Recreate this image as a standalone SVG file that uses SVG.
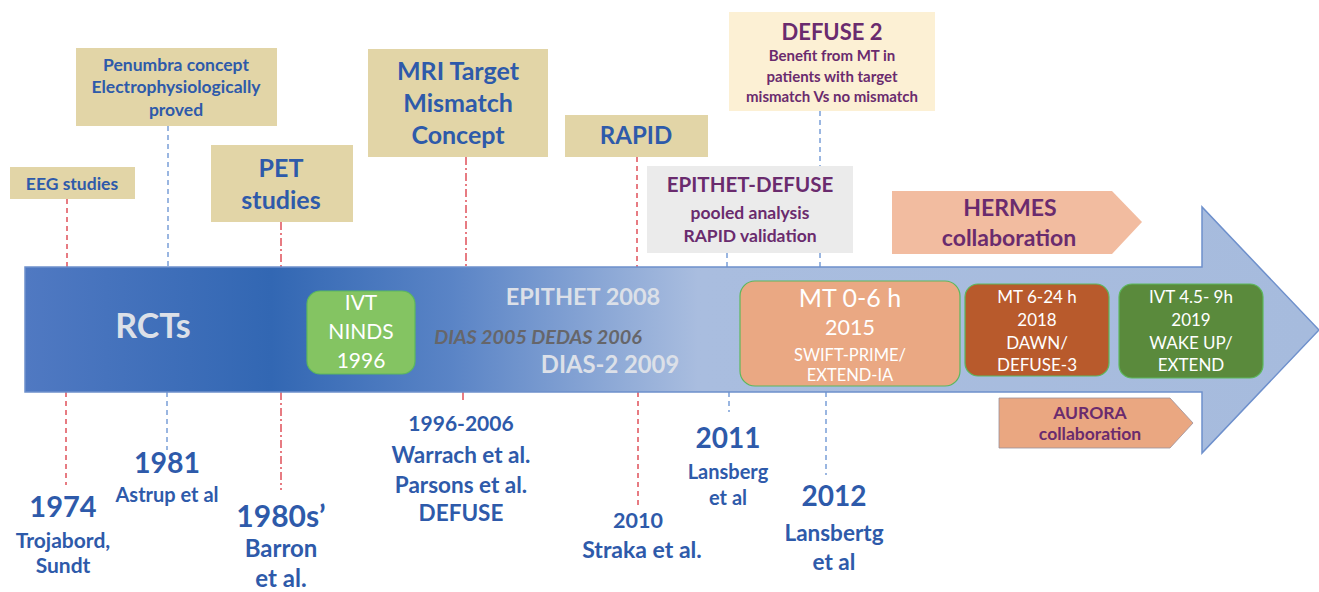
<svg xmlns="http://www.w3.org/2000/svg" width="1319" height="592" viewBox="0 0 1319 592">
<defs>
<linearGradient id="arrowGrad" gradientUnits="userSpaceOnUse" x1="25" y1="0" x2="1319" y2="0">
<stop offset="0" stop-color="#5079C2"/>
<stop offset="0.19" stop-color="#3267B3"/>
<stop offset="0.33" stop-color="#5A84C6"/>
<stop offset="0.52" stop-color="#A9BDDF"/>
<stop offset="1" stop-color="#A6BBDD"/>
</linearGradient>
<style>
.tan{fill:#E2D5A7;}
.bt{font-family:Lato,"Open Sans",sans-serif;font-weight:bold;fill:#2E5AAA;text-anchor:middle;}
.pt{font-family:Lato,"Open Sans",sans-serif;font-weight:bold;fill:#6A2B6E;text-anchor:middle;}
.wt{font-family:Lato,"Open Sans",sans-serif;fill:#FFFFFF;text-anchor:middle;}
.lt{font-family:Lato,"Open Sans",sans-serif;font-weight:bold;fill:#DCE0E8;text-anchor:middle;}
.red{stroke:#E0505A;stroke-width:1.5;fill:none;stroke-dasharray:5,4;}
.reddd{stroke:#E0505A;stroke-width:1.5;fill:none;stroke-dasharray:8,3,2,3;}
.blue{stroke:#7A9ED8;stroke-width:1.5;fill:none;stroke-dasharray:5,4;}
.rb{stroke:#5CB85C;stroke-width:1.2;}
</style>
</defs>

<g id="connectors">
<line class="red" x1="67" y1="199" x2="67" y2="267"/>
<line class="red" x1="66" y1="392" x2="66" y2="485"/>
<line class="blue" x1="168" y1="126" x2="168" y2="267"/>
<line class="blue" x1="167" y1="392" x2="167" y2="450"/>
<line class="reddd" x1="281" y1="222" x2="281" y2="267"/>
<line class="reddd" x1="281" y1="392" x2="281" y2="490"/>
<line class="reddd" x1="466" y1="157" x2="466" y2="267"/>
<line class="reddd" x1="463" y1="392" x2="463" y2="403"/>
<line class="red" x1="637" y1="157" x2="637" y2="267"/>
<line class="red" x1="638" y1="392" x2="638" y2="506"/>
<line class="blue" x1="727" y1="253" x2="727" y2="267"/>
<line class="blue" x1="729" y1="392" x2="729" y2="412"/>
<line class="blue" x1="820" y1="111" x2="820" y2="166"/>
<line class="blue" x1="820" y1="253" x2="820" y2="267"/>
<line class="blue" x1="826" y1="392" x2="826" y2="475"/>
</g>

<g id="timeline-arrow">
<path d="M25,267 H1202 V207 L1319,330 L1202,453 V392 H25 Z" fill="url(#arrowGrad)" stroke="#6E90CC" stroke-width="1.5"/>
<text class="lt" x="153" y="338" font-size="34">RCTs</text>
<text class="lt" x="583" y="305" font-size="23.5">EPITHET 2008</text>
<text x="538" y="344" font-size="19.8" font-family="Lato,'Open Sans',sans-serif" font-weight="bold" font-style="italic" fill="#66666A" text-anchor="middle">DIAS 2005 DEDAS 2006</text>
<text class="lt" x="610" y="373" font-size="23.8">DIAS-2 2009</text>
</g>

<g id="eeg">
<rect class="tan" x="10" y="167" width="125" height="32"/>
<text class="bt" x="72" y="190" font-size="17.5">EEG studies</text>
</g>

<g id="penumbra">
<rect class="tan" x="76" y="48" width="201" height="78"/>
<text class="bt" x="176" y="71" font-size="17.5">Penumbra concept</text>
<text class="bt" x="176" y="93" font-size="17.5">Electrophysiologically</text>
<text class="bt" x="176" y="116" font-size="17.5">proved</text>
</g>

<g id="pet">
<rect class="tan" x="211" y="145" width="142" height="77"/>
<text class="bt" x="281" y="177" font-size="25">PET</text>
<text class="bt" x="281" y="209" font-size="25">studies</text>
</g>

<g id="mri">
<rect class="tan" x="368" y="49" width="180" height="108"/>
<text class="bt" x="458" y="80" font-size="25">MRI Target</text>
<text class="bt" x="458" y="112" font-size="25">Mismatch</text>
<text class="bt" x="458" y="144" font-size="25">Concept</text>
</g>

<g id="rapid">
<rect class="tan" x="565" y="115" width="143" height="42"/>
<text class="bt" x="636" y="144" font-size="24">RAPID</text>
</g>

<g id="defuse2">
<rect x="729" y="12" width="206" height="99" fill="#FCF0D4"/>
<text class="pt" x="832" y="40" font-size="22">DEFUSE 2</text>
<text class="pt" x="832" y="61" font-size="15">Benefit from MT in</text>
<text class="pt" x="832" y="82" font-size="15">patients with target</text>
<text class="pt" x="832" y="102" font-size="15">mismatch Vs no mismatch</text>
</g>

<g id="epithet-defuse">
<rect x="647" y="166" width="206" height="87" fill="#EBEBEB"/>
<text class="pt" x="750" y="192" font-size="20.5">EPITHET-DEFUSE</text>
<text class="pt" x="750" y="219" font-size="17.5">pooled analysis</text>
<text class="pt" x="750" y="242" font-size="17.5">RAPID validation</text>
</g>

<g id="hermes">
<path d="M892,191 H1112 L1142,222 L1112,254 H892 Z" fill="#F2BCA0"/>
<text class="pt" x="1010" y="216" font-size="23">HERMES</text>
<text class="pt" x="1009" y="246" font-size="23">collaboration</text>
</g>

<g id="aurora">
<path d="M999,398 H1170 L1193,423 L1170,448 H999 Z" fill="#EAA781" stroke="#9A8F9A" stroke-width="0.8"/>
<text class="pt" x="1090" y="419" font-size="17.5">AURORA</text>
<text class="pt" x="1090" y="440" font-size="17.5">collaboration</text>
</g>

<g id="ivt-ninds">
<rect class="rb" x="307" y="291" width="108" height="83" rx="13" fill="#84C462"/>
<text class="wt" x="361" y="310" font-size="21">IVT</text>
<text class="wt" x="361" y="339" font-size="21">NINDS</text>
<text class="wt" x="361" y="368" font-size="21">1996</text>
</g>

<g id="mt-0-6">
<rect class="rb" x="740" y="281" width="220" height="105" rx="15" fill="#EAA883"/>
<text class="wt" x="850" y="307" font-size="25">MT 0-6 h</text>
<text class="wt" x="850" y="335" font-size="21.5">2015</text>
<text class="wt" x="850" y="361" font-size="16.5">SWIFT-PRIME/</text>
<text class="wt" x="850" y="381" font-size="16.5">EXTEND-IA</text>
</g>

<g id="mt-6-24">
<rect class="rb" x="965" y="284" width="144" height="92" rx="13" fill="#B85A2C"/>
<text class="wt" x="1037" y="303" font-size="17">MT 6-24 h</text>
<text class="wt" x="1037" y="326" font-size="17">2018</text>
<text class="wt" x="1037" y="349" font-size="17">DAWN/</text>
<text class="wt" x="1037" y="371" font-size="17">DEFUSE-3</text>
</g>

<g id="ivt-4-5-9">
<rect class="rb" x="1119" y="284" width="144" height="94" rx="13" fill="#5A8A3C"/>
<text class="wt" x="1191" y="303" font-size="17">IVT 4.5- 9h</text>
<text class="wt" x="1191" y="326" font-size="17">2019</text>
<text class="wt" x="1191" y="349" font-size="17">WAKE UP/</text>
<text class="wt" x="1191" y="371" font-size="17">EXTEND</text>
</g>

<g id="y1974">
<text class="bt" x="63" y="517" font-size="29">1974</text>
<text class="bt" x="63" y="548" font-size="21">Trojabord,</text>
<text class="bt" x="63" y="573" font-size="21">Sundt</text>
</g>

<g id="y1981">
<text class="bt" x="167" y="473" font-size="28.5">1981</text>
<text class="bt" x="167" y="502" font-size="20">Astrup et al</text>
</g>

<g id="y1980s">
<text class="bt" x="281" y="527" font-size="30">1980s’</text>
<text class="bt" x="281" y="557" font-size="24">Barron</text>
<text class="bt" x="281" y="587" font-size="24">et al.</text>
</g>

<g id="y1996">
<text class="bt" x="461" y="431" font-size="21">1996-2006</text>
<text class="bt" x="461" y="463" font-size="22.5">Warrach et al.</text>
<text class="bt" x="461" y="493" font-size="22.5">Parsons et al.</text>
<text class="bt" x="461" y="521" font-size="22.5">DEFUSE</text>
</g>

<g id="y2010">
<text class="bt" x="638" y="528" font-size="21.5">2010</text>
<text class="bt" x="642" y="558" font-size="23">Straka et al.</text>
</g>

<g id="y2011">
<text class="bt" x="728" y="448" font-size="28">2011</text>
<text class="bt" x="728" y="479" font-size="20">Lansberg</text>
<text class="bt" x="728" y="505" font-size="20">et al</text>
</g>

<g id="y2012">
<text class="bt" x="834" y="506" font-size="28">2012</text>
<text class="bt" x="834" y="541" font-size="22.5">Lansbertg</text>
<text class="bt" x="834" y="570" font-size="22.5">et al</text>
</g>
</svg>
